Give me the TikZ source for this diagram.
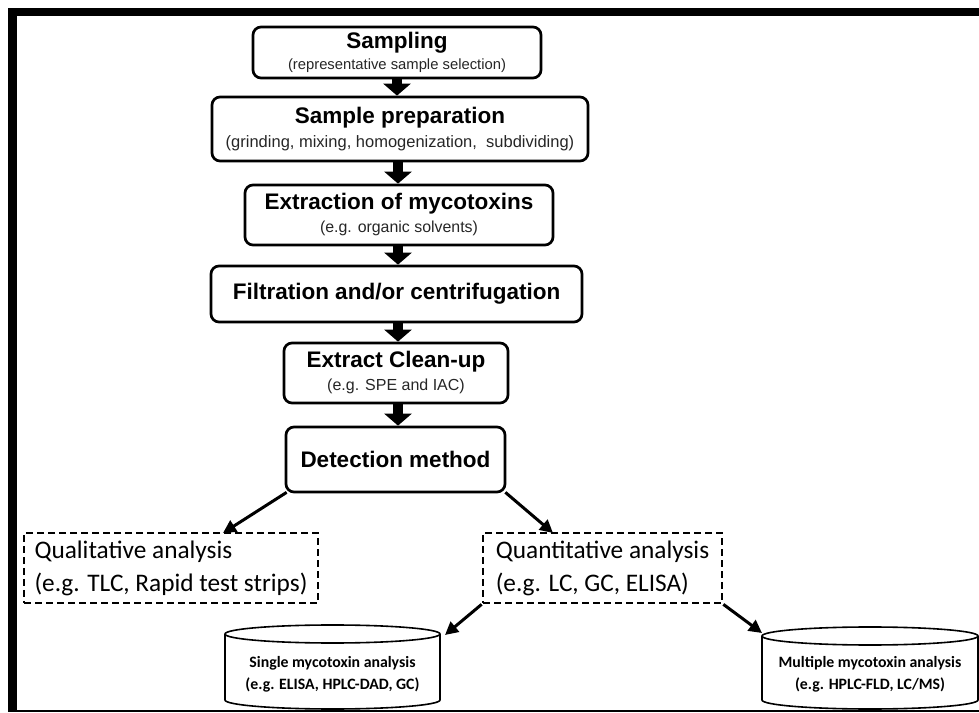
\documentclass[tikz,border=0pt]{standalone}
\usepackage{fontspec}
\setmainfont{Liberation Sans}
\newfontfamily\calfont{Carlito}
\usetikzlibrary{arrows.meta,calc}
\begin{document}
\begin{tikzpicture}[x=1pt,y=1pt,
  stepbox/.style={draw, line width=2.7pt, rounded corners=8pt, align=center, inner sep=0pt},
  ttl/.style={font=\fontsize{22.5}{22.5}\selectfont\bfseries},
  dbox/.style={draw, dash pattern=on 7pt off 4pt, line width=2.7pt, inner sep=0pt,
     font=\calfont\fontsize{25.3}{33}\selectfont, align=left},
  blk/.style={line width=10pt, -{Triangle[width=27pt,length=12pt]}},
  thinarrow/.style={line width=3pt, -{Triangle[width=13pt,length=13pt]}},
  cyl/.style={line width=1.6pt},
  cyltext/.style={font=\calfont\bfseries\fontsize{15.8}{22}\selectfont, align=center, inner sep=0pt}
]
\useasboundingbox (0,0) rectangle (979,712);
% frame
\fill (8,696) rectangle (979,704);
\fill (8,0) rectangle (17,704);
\fill (8,0) rectangle (979,2.5);

\newcommand\subt[1]{\textcolor{black!85}{#1}}

% main steps
\node[stepbox, minimum width=288pt, minimum height=51pt, font=\fontsize{14.8}{21}\selectfont] (s1) at (397,659.5)
  {{\fontsize{22.5}{22.5}\selectfont\bfseries Sampling}\\\subt{(representative sample selection)}};
\node[stepbox, minimum width=376pt, minimum height=64pt, font=\fontsize{16.5}{24}\selectfont] (s2) at (400,583)
  {{\fontsize{22.5}{22.5}\selectfont\bfseries Sample preparation}\\\subt{(grinding, mixing, homogenization,\ \ subdividing)}};
\node[stepbox, minimum width=308pt, minimum height=60pt, font=\fontsize{15.9}{23}\selectfont] (s3) at (399,497)
  {{\fontsize{22.5}{22.5}\selectfont\bfseries Extraction of mycotoxins}\\\subt{(e.g. organic solvents)}};
\node[stepbox, ttl, minimum width=371pt, minimum height=56pt] (s4) at (396.5,418)
  {Filtration and/or centrifugation};
\node[stepbox, minimum width=224pt, minimum height=60pt, font=\fontsize{16}{23}\selectfont] (s5) at (396,339)
  {{\fontsize{22.5}{22.5}\selectfont\bfseries Extract Clean-up}\\\subt{(e.g. SPE and IAC)}};
\node[stepbox, ttl, minimum width=219pt, minimum height=65pt] (s6) at (395.5,252.5)
  {Detection method};

\draw[blk] (s1.south) -- (s1.south |- s2.north);
\draw[blk] ($(s2.south)+(-2,0)$) coordinate (a2) -- (a2 |- s3.north);
\draw[blk] ($(s3.south)+(-1,0)$) coordinate (a3) -- (a3 |- s4.north);
\draw[blk] ($(s4.south)+(1.5,0)$) coordinate (a4) -- (a4 |- s5.north);
\draw[blk] ($(s5.south)+(2,0)$) coordinate (a5) -- (a5 |- s6.north);

% analysis boxes
\node[dbox, minimum width=294pt, minimum height=70pt] (qual) at (171,144)
  {Qualitative analysis\\(e.g. TLC, Rapid test strips)};
\node[dbox, minimum width=239pt, minimum height=70pt] (quant) at (602.5,144)
  {Quantitative analysis\\(e.g. LC, GC, ELISA)};

\coordinate (t1) at (223,179);
\coordinate (t2) at (553,179);
\draw[thinarrow] ($(s6.south west)+(2,1)$) -- (t1);
\draw[thinarrow] ($(s6.south east)+(-1,1)$) -- (t2);

% cylinders
\draw[cyl] (332.5,78) ellipse [x radius=107.5, y radius=9];
\draw[cyl] (225,78) -- (225,12) arc[start angle=180, end angle=360, x radius=107.5, y radius=9] -- (440,78);
\node[cyltext] (single) at (332.5,38) {Single mycotoxin analysis\\(e.g. ELISA, HPLC-DAD, GC)};

\draw[cyl] (870,76) ellipse [x radius=108, y radius=9];
\draw[cyl] (762,76) -- (762,12) arc[start angle=180, end angle=360, x radius=108, y radius=9] -- (978,76);
\node[cyltext] (multi) at (870,38) {Multiple mycotoxin analysis\\(e.g. HPLC-FLD, LC/MS)};

\coordinate (t3) at (445,77);
\coordinate (t4) at (762,79);
\draw[thinarrow] (quant.south west) -- (t3);
\draw[thinarrow] (quant.south east) -- (t4);
\end{tikzpicture}
\end{document}
